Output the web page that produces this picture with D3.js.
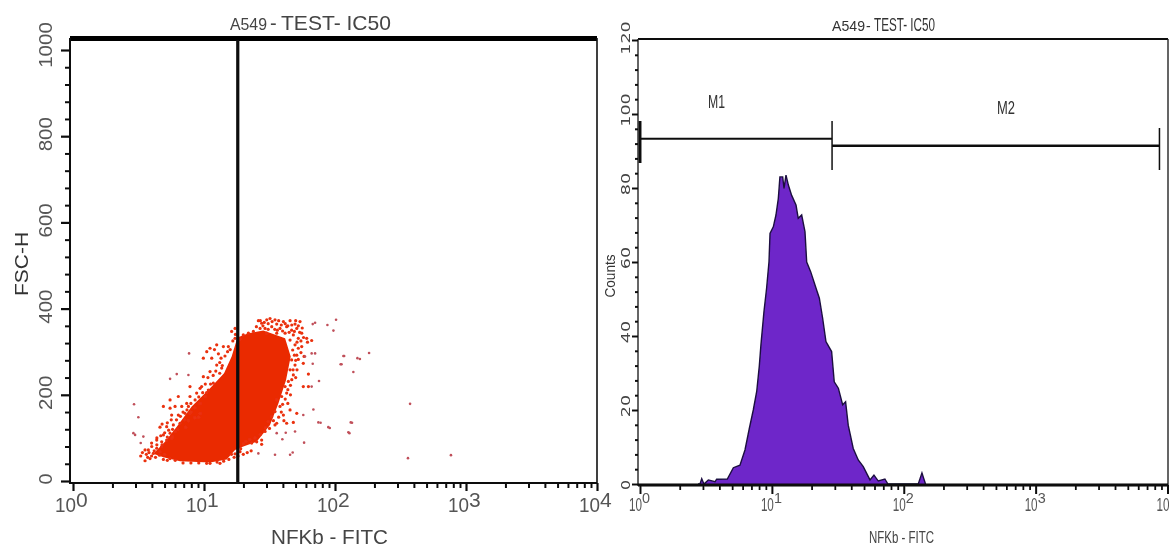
<!DOCTYPE html>
<html><head><meta charset="utf-8">
<style>html,body{margin:0;padding:0;background:#fff}svg{display:block}text{font-family:"Liberation Sans",Arial,sans-serif}</style>
<script src="https://cdn.jsdelivr.net/npm/d3@7/dist/d3.min.js"></script></head>
<body><script>
// ---- data (FITC given as log10 decades) ----
const decades=[0,1,2,3,4];
const minorMult=[2,3,4,5,6,7,8,9];
const fscMajor=[0,200,400,600,800,1000];
const countMajor=[0,20,40,60,80,100,120];
const gateFitc=18.1;
const denseLogFitc=[.613,.690,.817,1.046,1.173,1.237,1.300,1.402,1.504,1.568,1.626,1.662,1.619,1.453,1.339,1.255,1.211,1.153,1.046,.906,.792,.702];
const denseFsc=[63,55,46,43,50,72,80,91,130,180,234,289,331,349,343,333,289,250,215,173,126,91];
const edgeEvents=[[1.415,372],[1.440,366],[1.479,374],[1.504,377],[1.542,374],[1.555,364],[1.606,370],[1.657,372],[1.695,364],[1.733,370],[1.428,354],[1.466,354],[1.517,358],[1.580,354],[1.631,358],[1.669,350],[1.708,354],[1.746,343],[1.784,331],[1.822,326],[1.377,347],[1.339,343],[1.300,339],[1.275,329],[1.479,343],[1.555,343],[1.619,343],[1.682,339],[1.720,331],[1.657,327],[1.695,316],[1.746,312],[1.677,304],[1.708,292],[1.669,281],[1.695,269],[1.657,258],[1.682,246],[1.644,231],[1.619,219],[1.631,204],[1.593,196],[1.555,188],[1.580,173],[1.542,161],[1.517,149],[1.491,138],[1.555,134],[1.606,153],[1.657,165],[1.708,157],[1.631,134],[1.682,136],[1.542,130],[1.466,115],[1.440,95],[1.402,91],[1.364,88],[1.211,347],[1.237,354],[1.237,331],[1.186,312],[1.148,312],[1.097,316],[1.046,308],[1.021,300],[.995,285],[1.059,285],[1.097,269],[1.135,262],[1.046,254],[.995,242],[.982,219],[.970,215],[1.071,227],[.893,196],[.932,188],[.970,180],[.868,180],[.804,196],[.741,188],[.690,173],[.741,169],[.779,173],[.830,173],[.881,173],[.753,153],[.804,153],[.855,157],[.893,157],[.664,125],[.715,126],[.766,130],[.817,134],[.690,107],[.741,111],[.779,115],[.639,95],[.677,91],[.715,95],[.753,99],[.601,80],[.639,76],[.677,80],[.575,72],[.550,72],[.613,64],[.664,68],[.517,58],[.550,47],[.588,52],[1.122,41],[1.046,41],[.893,219],[.944,204],[1.008,196],[1.033,211],[.970,157],[1.237,63],[1.275,68],[1.764,289],[1.758,273],[1.758,219],[1.797,219],[1.797,248],
[1.43,372],[1.46,368],[1.49,365],[1.52,370],[1.57,372],[1.59,362],[1.62,365],[1.64,360],[1.67,362],[1.70,372],[1.72,360],[1.75,355],[1.40,358],[1.45,360],[1.49,352],[1.54,352],[1.56,350],[1.60,348],[1.65,345],[1.69,347],[1.73,345],[1.76,333],[1.79,322],[1.74,325],[1.71,322],[1.72,308],[1.74,298],[1.69,292],[1.72,282],[1.70,280],[1.68,258],[1.71,258],[1.70,240],[1.67,235],[1.66,222],[1.64,212],[1.66,200],[1.62,190],[1.64,180],[1.60,178],[1.59,160],[1.61,140],[1.57,148],[1.53,140],[1.50,122],[1.47,124],[1.43,108],[1.39,100],[1.35,96],[1.32,92],[1.30,86],[1.28,75],[1.44,85],[1.36,70],[1.33,66],[1.30,62],[1.26,58],
[1.24,340],[1.22,325],[1.20,305],[1.18,300],[1.16,290],[1.13,285],[1.11,295],[1.08,305],[1.12,275],[1.09,255],[1.14,268],[1.12,250],[1.07,245],[1.03,240],[1.05,225],[1.01,225],[.99,205],[1.02,205],[.96,195],[.93,170],[.90,160],[.87,165],[.85,142],[.88,140],[.82,150],[.79,142],[.76,120],[.80,120],[.73,118],[.70,112],[.76,103],[.72,102],[.67,105],[.64,100],[.68,84],[.64,84],[.60,88],[.62,70],[.58,66],[.56,62],[.53,66],[.60,58],[.63,55],[.57,55],[.66,60],[.70,62],[.74,52],[.78,48],[.72,48],[.69,50],[.84,42],[.90,42],[.96,42],[1.02,41],[1.10,44],[1.15,46],[1.19,50],[1.21,62],[1.23,55],[.93,147],[.96,148],[.90,180],[.84,160],[.72,135],[.68,132],[.75,142],[.86,125]];
const farEvents=[[1.415,64],[1.542,61],[1.657,61],[1.677,66],[1.555,111],[1.624,112],[1.695,115],[1.598,97],[1.764,89],[1.758,153],[1.835,166],[1.878,232],[1.830,272],[1.771,289],[1.822,296],[1.848,296],[1.822,219],[1.873,136],[1.949,125],[2.120,136],[2.102,113],[2.043,271],[2.064,290],[2.171,285],[1.830,364],[1.848,367],[1.942,362],[2.008,374],[1.988,349],[2.26,297],[2.19,283],[2.07,290],[2.05,271],[2.14,253],[2.13,135],[2.11,111],[1.96,123],[1.89,135],[2.573,179],[2.557,53],[2.885,60],[.741,237],[.792,248],[.881,246],[.886,296],[.466,178],[.499,148],[.537,103],[.517,88],[.461,111],[.474,107]];
const histLogFitc=[.44,.455,.468,.485,.518,.569,.581,.662,.708,.758,.796,.829,.859,.885,.905,.917,.940,.960,.978,.986,1.011,1.031,1.049,1.061,1.082,1.092,1.107,1.125,1.150,1.183,1.200,1.226,1.251,1.264,1.294,1.327,1.360,1.385,1.410,1.453,1.473,1.504,1.537,1.559,1.579,1.617,1.655,1.693,1.744,1.774,1.807,1.857,1.880,2.11,2.138,2.165];
const histCounts=[0,0,1.4,0,1.1,.6,1.3,1.35,4.4,5.1,9.2,15,20,25,32,37.6,46.6,52.9,60,67.7,69.5,72.7,77.2,83,83,79.9,83.5,80.8,78,75.4,71.8,72.7,68.2,60,57.4,53.8,50.2,44.8,38.5,35.8,27.6,25.9,21.4,22.2,15.9,9.6,6.5,4.7,1.1,2.4,.8,1.35,0,0,3,0];
const markerM1=[1,28.6,93.3], markerM2=[28.6,8690,91.4];

const W=1169,H=545;
const svg=d3.select("body").append("svg").attr("width",W).attr("height",H);
const defs=svg.append("defs");
defs.append("filter").attr("id","soft").attr("x","-5%").attr("y","-5%").attr("width","110%").attr("height","110%")
  .append("feGaussianBlur").attr("stdDeviation",0.45);
const root=svg.append("g").attr("filter","url(#soft)");

const minorVals=decades.slice(0,4).flatMap(d=>minorMult.map(m=>m*Math.pow(10,d)));
function hText(g,x,y,s,size,len,color,anchor){
  const t=g.append("text").attr("x",x).attr("y",y).attr("font-size",size).attr("fill",color).attr("text-anchor",anchor||"start").text(s);
  if(len) t.attr("textLength",len).attr("lengthAdjust","spacingAndGlyphs");
  return t;
}
function vText(g,x,y,s,size,len,color,family){
  const t=g.append("text").attr("transform",`translate(${x},${y}) rotate(-90)`).attr("font-size",size).attr("fill",color).attr("text-anchor","middle").text(s);
  if(len) t.attr("textLength",len).attr("lengthAdjust","spacingAndGlyphs");
  if(family) t.style("font-family",family);
  return t;
}
function axisStyle(g,w){g.selectAll(".domain").remove();g.selectAll("line").attr("stroke","#111").attr("stroke-width",w);g.selectAll("text").remove();}

// ---- left panel ----
const xL=d3.scaleLog().domain([1,10000]).range([73,597]);
const yL=d3.scaleLinear().domain([0,1000]).range([481,50]);
const L=root.append("g");
const dense=d3.line().x(i=>xL(Math.pow(10,denseLogFitc[i]))).y(i=>yL(denseFsc[i])).curve(d3.curveLinearClosed);
L.append("path").attr("d",dense(d3.range(denseFsc.length))).attr("fill","#ea2a05");
L.append("g").selectAll("circle").data(edgeEvents).join("circle")
  .attr("cx",d=>xL(Math.pow(10,d[0]))).attr("cy",d=>yL(d[1])).attr("r",1.6).attr("fill","#ea3010");
L.append("g").selectAll("circle").data(farEvents).join("circle")
  .attr("cx",d=>xL(Math.pow(10,d[0]))).attr("cy",d=>yL(d[1])).attr("r",1.3).attr("fill","#c0505a");
// frame
L.append("rect").attr("x",70).attr("y",36).attr("width",527).attr("height",5).attr("fill","#000");
L.append("line").attr("x1",70).attr("x2",70).attr("y1",38).attr("y2",484).attr("stroke","#111").attr("stroke-width",2);
L.append("line").attr("x1",597).attr("x2",597).attr("y1",38).attr("y2",484).attr("stroke","#111").attr("stroke-width",1.6);
L.append("line").attr("x1",70).attr("x2",597).attr("y1",483).attr("y2",483).attr("stroke","#111").attr("stroke-width",2);
L.append("line").attr("x1",xL(gateFitc)).attr("x2",xL(gateFitc)).attr("y1",40).attr("y2",484).attr("stroke","#0a0a0a").attr("stroke-width",3.2);
// ticks
L.append("g").attr("transform","translate(0,483)").call(d3.axisBottom(xL).tickValues(decades.map(d=>Math.pow(10,d))).tickSize(8).tickFormat("")).call(axisStyle,2.2);
L.append("g").attr("transform","translate(0,483)").call(d3.axisBottom(xL).tickValues(minorVals).tickSize(5).tickFormat("")).call(axisStyle,2);
L.append("g").attr("transform","translate(70,0)").call(d3.axisLeft(yL).tickValues(fscMajor).tickSize(9).tickFormat("")).call(axisStyle,2.2);
L.append("g").attr("transform","translate(70,0)").call(d3.axisLeft(yL).tickValues(d3.range(0,1000,40).filter(v=>v%200)).tickSize(5).tickFormat("")).call(axisStyle,2);
// labels
fscMajor.forEach(v=>vText(L,52,yL(v)-(v===1000?5:2),v,19,v===0?11:(String(v).length*11.4),"#555"));
decades.forEach(d=>{const x=xL(Math.pow(10,d));
  hText(L,x-18,512,"10",20,21,"#555");
  hText(L,x+3,507,d,21,null,"#555");});
vText(L,28,264,"FSC-H",18,64,"#333");
hText(L,271,544,"NFKb - FITC",20,117,"#444");
hText(L,230,30,"A549",16,37,"#444");
hText(L,270,30,"-",20,null,"#444");
hText(L,281,30,"TEST- IC50",21,110,"#444");

// ---- right panel ----
const xR=d3.scaleLog().domain([1,10000]).range([640,1167.5]);
const yR=d3.scaleLinear().domain([0,120]).range([484,40]);
const R=root.append("g");
const area=d3.area().x(i=>xR(Math.pow(10,histLogFitc[i]))).y0(yR(0)).y1(i=>yR(histCounts[i]));
const line=d3.line().x(i=>xR(Math.pow(10,histLogFitc[i]))).y(i=>yR(histCounts[i]));
R.append("path").attr("d",area(d3.range(histCounts.length))).attr("fill","#6e27c9");
R.append("path").attr("d",line(d3.range(histCounts.length))).attr("fill","none").attr("stroke","#1c1040").attr("stroke-width",1.4);
R.append("line").attr("x1",638).attr("x2",1168).attr("y1",39).attr("y2",39).attr("stroke","#111").attr("stroke-width",1.8);
R.append("line").attr("x1",638).attr("x2",638).attr("y1",39).attr("y2",486).attr("stroke","#222").attr("stroke-width",1.4);
R.append("line").attr("x1",1168).attr("x2",1168).attr("y1",39).attr("y2",486).attr("stroke","#222").attr("stroke-width",1.4);
R.append("line").attr("x1",638).attr("x2",1168).attr("y1",yR(0)+1).attr("y2",yR(0)+1).attr("stroke","#0a0a0a").attr("stroke-width",3);
R.append("g").attr("transform","translate(0,485)").call(d3.axisBottom(xR).tickValues(decades.map(d=>Math.pow(10,d))).tickSize(9).tickFormat("")).call(axisStyle,2);
R.append("g").attr("transform","translate(0,485)").call(d3.axisBottom(xR).tickValues(minorVals).tickSize(5).tickFormat("")).call(axisStyle,1.8);
R.append("g").attr("transform","translate(638,0)").call(d3.axisLeft(yR).tickValues(countMajor).tickSize(6).tickFormat("")).call(axisStyle,2);
R.append("g").attr("transform","translate(638,0)").call(d3.axisLeft(yR).tickValues(d3.range(0,120,4).filter(v=>v%20)).tickSize(3).tickFormat("")).call(axisStyle,2);
// markers
const drawMarker=(m,lw)=>{
  const y=yR(m[2]);
  R.append("line").attr("x1",xR(m[0])).attr("x2",xR(m[1])).attr("y1",y).attr("y2",y).attr("stroke","#111").attr("stroke-width",lw);
};
drawMarker(markerM1,2);drawMarker(markerM2,2.6);
R.append("line").attr("x1",xR(markerM1[0])).attr("x2",xR(markerM1[0])).attr("y1",121).attr("y2",163).attr("stroke","#111").attr("stroke-width",3);
R.append("line").attr("x1",xR(markerM1[1])).attr("x2",xR(markerM1[1])).attr("y1",121).attr("y2",170).attr("stroke","#111").attr("stroke-width",1.5);
R.append("line").attr("x1",xR(markerM2[1])).attr("x2",xR(markerM2[1])).attr("y1",128).attr("y2",170).attr("stroke","#111").attr("stroke-width",1.5);
hText(R,708,108,"M1",19,17,"#333");
hText(R,997,114,"M2",19,18,"#333");
countMajor.forEach(v=>vText(R,630,yR(v)-(v===120?2:(v===0?-1:4)),v,13,v===0?10:(String(v).length*11.2),"#444","'DejaVu Sans',sans-serif"));
vText(R,615,276,"Counts",14,43,"#333");
decades.forEach(d=>{const x=xR(Math.pow(10,d));
  hText(R,x-11,511,"10",18,13,"#555");
  hText(R,x+2,503,d,15,8,"#555");});
hText(R,869,543,"NFKb - FITC",17,65,"#444");
hText(R,832,31,"A549",15,33,"#333");
hText(R,866,31,"-",14,null,"#333");
hText(R,874,31,"TEST- IC50",18,61,"#333");
</script></body></html>
